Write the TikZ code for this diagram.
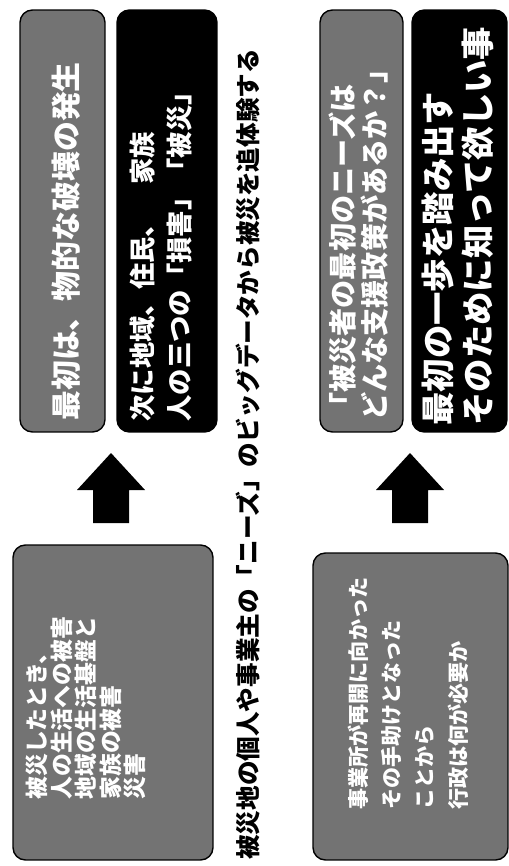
\documentclass[tikz,border=0pt]{standalone}
\usepackage{fontspec}
\newfontfamily\jpfont{Noto Sans CJK JP}
\usetikzlibrary{positioning}
\tikzset{
    panel/.style={draw=black,line width=0.8pt,rounded corners=7pt,inner sep=0pt},
    graypanel/.style={panel,fill=black!55},
    blackpanel/.style={panel,fill=black},
    paneltext/.style={text=white,font=\jpfont\bfseries,rotate=90,anchor=west,align=left,inner sep=0pt},
    bigarrow/.style={fill=black}
}

\begin{document}
\begin{tikzpicture}[x=0.02cm,y=-0.02cm]
    \useasboundingbox (0,0) rectangle (509,866);

    % upper pair
    \node[graypanel,minimum width=1.70cm,minimum height=8.44cm] (first) at (62.5,221) {};
    \node[blackpanel,minimum width=2.0cm,minimum height=8.44cm] (loss) at (167,221) {};
    \node[graypanel,minimum width=4.0cm,minimum height=6.3cm] (damage) at (113,702.5) {};

    \node[paneltext,font=\jpfont\bfseries\fontsize{17}{20}\selectfont] (firsttxt) at (66,421) {最初は、物的な破壊の発生};
    \node[paneltext,font=\jpfont\bfseries\fontsize{15}{21}\selectfont] (losstxt) at (161,422) {次に地域、住民、　家族\\人の三つの「損害」「被災」};
    \node[paneltext,font=\jpfont\bfseries\fontsize{13}{14}\selectfont] (damagetxt) at (86,800) {被災したとき、\\人の生活への被害\\地域の生活基盤と\\家族の被害\\災害};

    % title
    \node[font=\jpfont\bfseries\fontsize{14}{16}\selectfont,rotate=90,anchor=west,inner sep=0pt] (title) at (248,860) {被災地の個人や事業主の「ニーズ」のビッグデータから被災を追体験する};

    % lower pair
    \node[graypanel,minimum width=1.66cm,minimum height=8.44cm] (needs) at (361.5,221) {};
    \node[blackpanel,minimum width=1.9cm,minimum height=8.44cm] (firststep) at (459.5,221) {};
    \node[graypanel,minimum width=3.9cm,minimum height=6.14cm] (restart) at (410.5,706.5) {};

    \node[paneltext,font=\jpfont\bfseries\fontsize{16}{18.7}\selectfont] (needstxt) at (358.5,421) {「被災者の最初のニーズは\\どんな支援政策があるか？」};
    \node[paneltext,font=\jpfont\bfseries\fontsize{19}{22.7}\selectfont] (firststeptxt) at (458,426) {最初の一歩を踏み出す\\そのために知って欲しい事};
    \node[paneltext,font=\jpfont\bfseries\fontsize{12}{19}\selectfont] (restarttxt) at (408,810) {事業所が再開に向かった\\その手助けとなった\\ことから\\行政は何が必要か};

    % arrows
    \foreach \ax in {111,410}
        \fill[bigarrow] ({\ax-34},490) -- (\ax,453) -- ({\ax+34},490) -- ({\ax+18},490)
            -- ({\ax+18},523) -- ({\ax-18},523) -- ({\ax-18},490) -- cycle;
\end{tikzpicture}
\end{document}
